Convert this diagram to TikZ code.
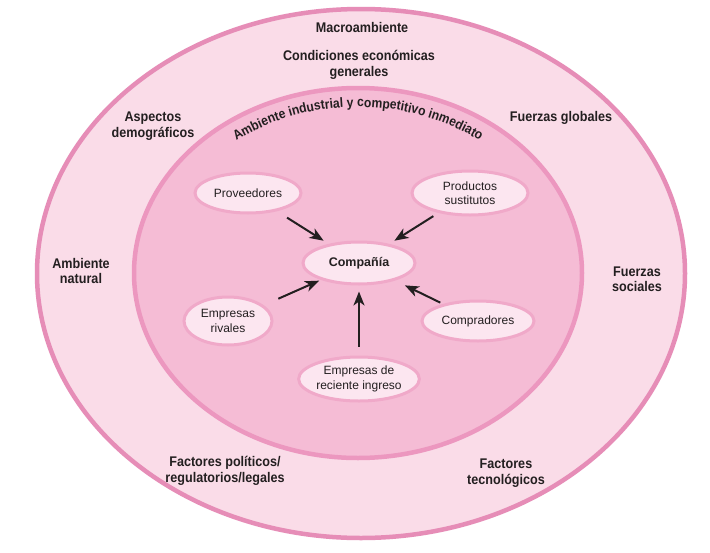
\documentclass[tikz,border=0pt]{standalone}
\usepackage{fontspec}
\setmainfont{Liberation Sans}
\newfontfamily\lblfont[FakeStretch=0.9]{Liberation Sans}
\usetikzlibrary{shapes.geometric,arrows.meta,decorations.text}
\definecolor{outerfill}{HTML}{FADCE8}
\definecolor{outerline}{HTML}{E68DB7}
\definecolor{innerfill}{HTML}{F5BCD5}
\definecolor{innerline}{HTML}{EC97BF}
\definecolor{smallfill}{HTML}{FCE6F0}
\definecolor{smallline}{HTML}{F0A9C9}
\definecolor{ink}{HTML}{231F20}
\begin{document}
\begin{tikzpicture}[x=1pt,y=1pt,
  ring/.style={ellipse, inner sep=0pt, line width=4.5pt},
  actor/.style={ellipse, inner sep=0pt, fill=smallfill, draw=smallline, line width=3pt,
     text=ink, align=center, font=\fontsize{12}{14.5}\selectfont},
  macro/.style={text=ink, align=center, font=\lblfont\bfseries\fontsize{14}{15.5}\selectfont},
  arr/.style={draw=ink, line width=2pt, -{Stealth[length=14pt,width=11pt,inset=4pt]}}
]
\useasboundingbox (0,0) rectangle (710,-552);
\fill[white] (0,0) rectangle (710,-552);

\node[ring, fill=outerfill, draw=outerline, minimum width=648pt, minimum height=529pt] (macroring) at (361,-273.5) {};
\node[ring, fill=innerfill, draw=innerline, minimum width=448pt, minimum height=370pt] (indring) at (358,-273) {};

\path[decorate, decoration={text along path, text align=center,
  text={|\lblfont\bfseries\fontsize{13.5}{15}\selectfont\color{ink}|Ambiente industrial y competitivo inmediato}}]
  (358,-273) ++(152:201 and 166) arc[start angle=152, end angle=28, x radius=201, y radius=166];

\node[macro] (tmacro) at (362,-27) {Macroambiente};
\node[macro] (tcond) at (359,-65) {Condiciones económicas\\generales};
\node[macro] (tdemo) at (153,-126) {Aspectos\\demográficos};
\node[macro] (tglob) at (561,-118) {Fuerzas globales};
\node[macro] (tnat) at (81,-271) {Ambiente\\natural};
\node[macro] (tsoc) at (637,-279) {Fuerzas\\sociales};
\node[macro] (tpol) at (225,-471) {Factores políticos/\\regulatorios/legales};
\node[macro] (ttec) at (506,-473) {Factores\\tecnológicos};

\node[actor, minimum width=106pt, minimum height=40pt] (prov) at (248,-193) {Proveedores};
\node[actor, minimum width=116pt, minimum height=44pt] (sust) at (470,-193) {Productos\\sustitutos};
\node[actor, minimum width=112pt, minimum height=42pt, font=\bfseries\fontsize{12.5}{14.5}\selectfont] (comp) at (359,-263) {Compañía};
\node[actor, minimum width=88pt, minimum height=48pt] (riv) at (228,-321) {Empresas\\rivales};
\node[actor, minimum width=112pt, minimum height=40pt] (compr) at (478,-321) {Compradores};
\node[actor, minimum width=114pt, minimum height=44pt] (entr) at (359,-379) {Empresas de\\reciente ingreso};

\draw[arr, shorten <=12pt, shorten >=6pt] (prov) -- (comp);
\draw[arr, shorten <=6pt, shorten >=6pt] (sust) -- (comp);
\draw[arr, shorten <=3pt, shorten >=11pt] (compr) -- (comp);
\draw[arr, shorten <=16pt, shorten >=2pt] (riv) -- (comp);
\draw[arr, shorten <=9pt, shorten >=6pt] (entr) -- (comp);
\end{tikzpicture}
\end{document}
